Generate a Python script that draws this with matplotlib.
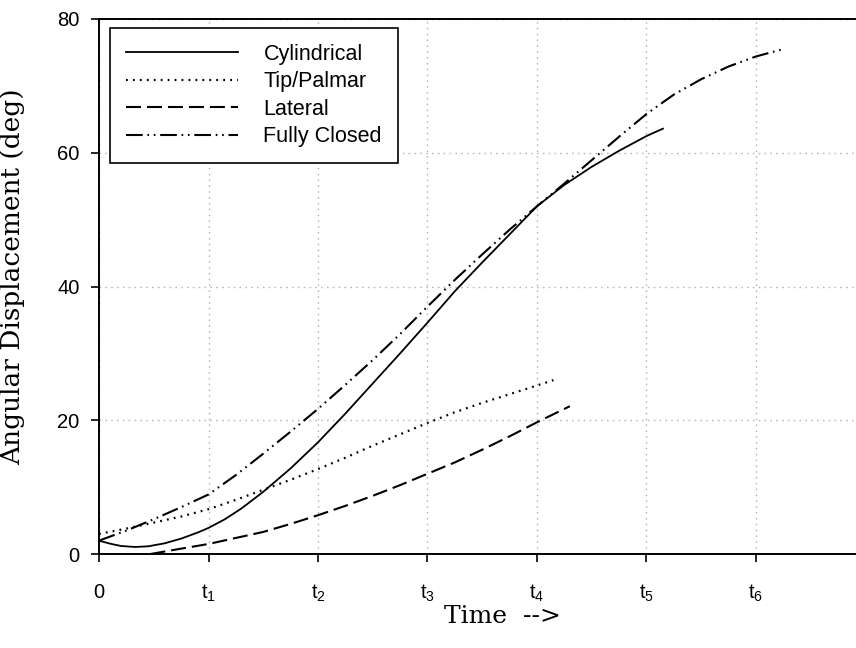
import numpy as np
import matplotlib
matplotlib.use("Agg")
import matplotlib.pyplot as plt

plt.rcParams["font.family"] = ["Liberation Sans", "DejaVu Sans"]
plt.rcParams["mathtext.fontset"] = "custom"
plt.rcParams["mathtext.rm"] = "Liberation Sans"
plt.rcParams["mathtext.it"] = "Liberation Sans"
plt.rcParams["lines.scale_dashes"] = False

# values (x in units of t)
cyl_x = [0, 0.1, 0.2, 0.33, 0.45, 0.6, 0.75, 0.9, 1.0, 1.15, 1.3, 1.5, 1.75, 2.0, 2.25,
         2.5, 2.75, 3.0, 3.25, 3.5, 3.75, 4.0, 4.25, 4.5, 4.75, 5.0, 5.15]
cyl_y = [2.0, 1.55, 1.2, 1.05, 1.15, 1.6, 2.3, 3.2, 3.9, 5.2, 6.8, 9.3, 12.8, 16.7, 21.0,
         25.5, 30.0, 34.6, 39.3, 43.6, 47.8, 52.0, 55.2, 57.9, 60.3, 62.5, 63.6]

tip_x = [0, 0.25, 0.5, 0.75, 1.0, 1.25, 1.5, 1.75, 2.0, 2.25, 2.5, 2.75, 3.0, 3.25,
         3.5, 3.75, 4.0, 4.15]
tip_y = [3.0, 3.8, 4.7, 5.6, 6.7, 8.1, 9.6, 11.1, 12.7, 14.4, 16.2, 17.9, 19.6, 21.2,
         22.6, 23.9, 25.2, 26.0]

lat_x = [0.47, 0.75, 1.0, 1.25, 1.5, 1.75, 2.0, 2.25, 2.5, 2.75, 3.0, 3.25, 3.5, 3.75,
         4.0, 4.3]
lat_y = [0.0, 0.8, 1.5, 2.4, 3.3, 4.5, 5.8, 7.2, 8.7, 10.3, 12.0, 13.7, 15.6, 17.6,
         19.7, 22.1]

full_x = [0, 0.25, 0.5, 0.75, 1.0, 1.25, 1.5, 1.75, 2.0, 2.25, 2.5, 2.75, 3.0, 3.25,
          3.5, 3.75, 4.0, 4.25, 4.5, 4.75, 5.0, 5.25, 5.5, 5.75, 6.0, 6.25]
full_y = [2.0, 3.5, 5.2, 7.0, 8.9, 11.8, 15.0, 18.3, 21.7, 25.3, 29.0, 32.9, 37.0, 41.0,
          44.8, 48.5, 52.0, 55.4, 58.9, 62.4, 65.8, 68.7, 71.0, 72.9, 74.4, 75.5]

xtick_pos = [0, 1, 2, 3, 4, 5, 6]
xtick_lab = ["0", r"$\mathrm{t}_1$", r"$\mathrm{t}_2$", r"$\mathrm{t}_3$",
             r"$\mathrm{t}_4$", r"$\mathrm{t}_5$", r"$\mathrm{t}_6$"]
ytick_pos = [0, 20, 40, 60, 80]

fig = plt.figure(figsize=(8.56, 6.48), dpi=100)
ax = fig.add_axes([99/856, 1-554/648, 757/856, 535/648])

ax.plot(cyl_x, cyl_y, color="black", lw=1.3, ls="-", label="Cylindrical")
ax.plot(tip_x, tip_y, color="black", lw=1.6, ls=(0, (1.3, 3.7)), label="Tip/Palmar")
ax.plot(lat_x, lat_y, color="black", lw=1.5, ls=(0, (10.8, 4.3)), label="Lateral")
ax.plot(full_x, full_y, color="black", lw=1.5,
        ls=(0, (12, 3.4, 1.2, 3.4, 1.2, 3.4)), label="Fully Closed")

ax.set_xlim(0, 757/109.5)
ax.set_ylim(0, 80)
ax.set_xticks(xtick_pos)
ax.set_xticklabels(xtick_lab)
ax.set_yticks(ytick_pos)
ax.tick_params(direction="out", length=6, width=1.2, labelsize=14.5, color="black")
ax.tick_params(axis="x", pad=15)
ax.tick_params(axis="y", pad=8)

ax.grid(True, color="#b8b8b8", lw=1.0, ls=(0, (1.2, 3.0)))
ax.set_axisbelow(True)
ax.spines["right"].set_visible(False)
for s in ["left", "bottom", "top"]:
    ax.spines[s].set_linewidth(1.4)

ax.set_xlabel("Time  -->", family="DejaVu Serif", fontsize=18)
ax.set_ylabel("Angular Displacement (deg)", family="DejaVu Serif", fontsize=19)
ax.xaxis.set_label_coords((502-99)/757, (554-605)/535)
ax.yaxis.set_label_coords((25-99)/757, (554-277)/535)

leg = ax.legend(loc="upper left", bbox_to_anchor=((110-99)/757, (554-28)/535),
                borderaxespad=0, fontsize=15.5, handlelength=5.2, handletextpad=1.2,
                labelspacing=0.3, borderpad=0.73, fancybox=False, framealpha=1,
                edgecolor="black")
leg.get_frame().set_linewidth(1.2)

fig.savefig("out.png", dpi=100)
